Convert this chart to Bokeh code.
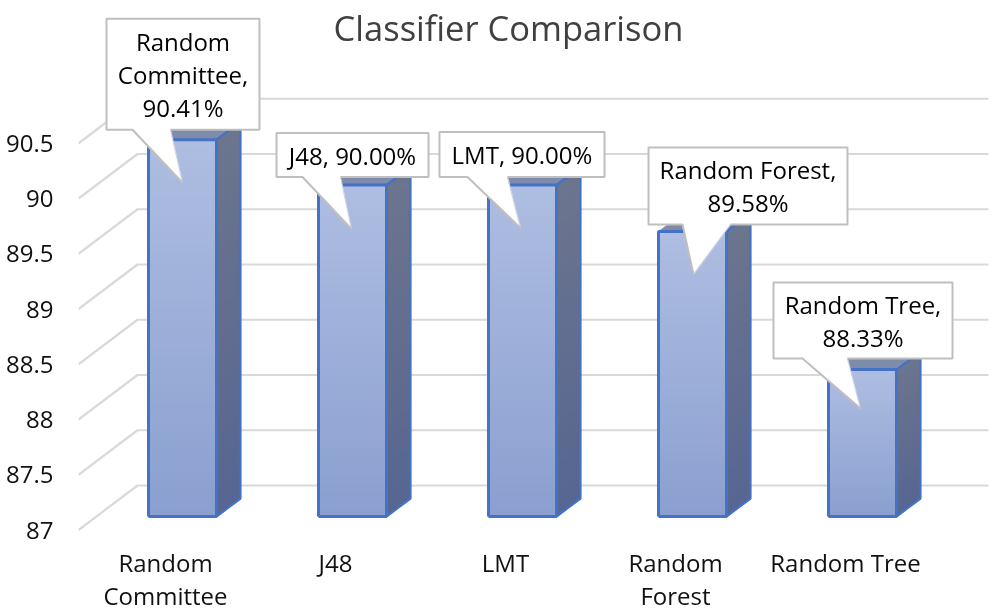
from bokeh.plotting import figure
from bokeh.models import Range1d, LinearAxis, FixedTicker, NumeralTickFormatter
from bokeh.core.properties import value
from bokeh.embed import file_html
from bokeh.resources import INLINE

categories = ["Random Committee", "J48", "LMT", "Random Forest", "Random Tree"]
axis_labels = ["Random\nCommittee", "J48", "LMT", "Random\nForest", "Random Tree"]
accuracy = [90.41, 90.00, 90.00, 89.58, 88.33]
y_ticks = [87, 87.5, 88, 88.5, 89, 89.5, 90, 90.5]
title_text = "Classifier Comparison"
callout_breaks = ["Random\nCommittee,\n", "J48, ", "LMT, ", "Random Forest,\n", "Random Tree,\n"]

FONT = "Open Sans"
W, H = 1000, 615
LEFT, BOTTOM = 78, 532          # frame edges, px
X_UNIT, Y_UNIT = 170.0, 110.5   # px per category / per accuracy point
X0, Y0 = 182.0, 516.0           # px of first bar centre / of value 87
BASE = 87.0

def dx(px): return px / X_UNIT
def dy(px): return px / Y_UNIT

x_start = dx(LEFT - X0)
x_end = dx(W - X0)
y_start = BASE - dy(BOTTOM - Y0)
y_end = BASE + dy(Y0)

p = figure(width=W, height=H, output_backend="svg", toolbar_location=None,
           x_range=Range1d(x_start, x_end), y_range=Range1d(y_start, y_end),
           x_axis_location=None, y_axis_location=None,
           min_border_left=LEFT, min_border_right=0, min_border_top=0,
           min_border_bottom=H - BOTTOM, outline_line_color=None,
           background_fill_color="white", border_fill_color="white")
p.xgrid.visible = False
p.ygrid.visible = False
p.styles = {"position": "fixed", "left": "0px", "top": "0px"}

# Axes on shifted ranges: the labels sit on the front edge of the 3-D floor
p.extra_y_ranges["front"] = Range1d(y_start + dy(13.5), y_end + dy(13.5))
ya = LinearAxis(y_range_name="front", ticker=FixedTicker(ticks=y_ticks),
                formatter=NumeralTickFormatter(format="0.[0]"),
                axis_line_color=None, major_tick_line_color=None, minor_tick_line_color=None,
                major_label_standoff=19, major_label_text_font=FONT,
                major_label_text_font_size="24px", major_label_text_color="#111111")
p.add_layout(ya, "left")

p.extra_x_ranges["front"] = Range1d(x_start + dx(17), x_end + dx(17))
xa = LinearAxis(x_range_name="front", ticker=FixedTicker(ticks=list(range(len(categories)))),
                major_label_overrides={i: s for i, s in enumerate(axis_labels)},
                axis_line_color=None, major_tick_line_color=None, minor_tick_line_color=None,
                major_label_standoff=7, major_label_text_font=FONT,
                major_label_text_font_size="24px", major_label_text_color="#111111",
                major_label_text_line_height=1.0)
p.add_layout(xa, "below")

# Gridlines: a diagonal on the side wall and a horizontal on the back wall
WALL_LEFT, WALL_BACK, WALL_RIGHT, WALL_FRONT = dx(137 - X0), dy(31), dx(988 - X0), dy(-13.5)
gx, gy = [], []
for t in y_ticks:
    gx.append([dx(LEFT - X0), WALL_LEFT, WALL_RIGHT])
    gy.append([t + WALL_FRONT, t + WALL_BACK, t + WALL_BACK])
p.multi_line(gx, gy, line_color="#d9d9d9", line_width=2.2)

# Bars
HALF = dx(34)
DEPTH_X, DEPTH_Y = dx(24), dy(18)
STEPS = 40
BLUE = "#4472c4"
def mix(a, b, f):
    return "#%02x%02x%02x" % tuple(round(a[k] + (b[k] - a[k]) * f) for k in range(3))

for i, v in enumerate(accuracy):
    l, r = i - HALF, i + HALF
    # each slice runs from its own top down to the base, painted top to bottom: no seams
    tops = [v - (v - BASE) * s / STEPS for s in range(STEPS)]
    fc = [mix((174, 189, 225), (138, 159, 208), s / STEPS) for s in range(STEPS)]
    sc = [mix((108, 117, 142), (86, 102, 146), s / STEPS) for s in range(STEPS)]
    p.patches([[r, r + DEPTH_X, r + DEPTH_X, r] for _ in tops],
              [[BASE, BASE + DEPTH_Y, t + DEPTH_Y, t] for t in tops],
              fill_color=sc, line_color=None)
    p.patch([l, r, r + DEPTH_X, l + DEPTH_X], [v, v, v + DEPTH_Y, v + DEPTH_Y],
            fill_color="#7f8bab", line_color="#7f8bab", line_width=0.5)
    p.quad(left=[l] * STEPS, right=[r] * STEPS, bottom=[BASE] * STEPS, top=tops,
           fill_color=fc, line_color=None)
    p.line([r, r + DEPTH_X, r + DEPTH_X, r], [BASE, BASE + DEPTH_Y, v + DEPTH_Y, v],
           line_color=BLUE, line_width=2.2)
    p.line([l, r, r, l, l], [BASE, BASE, v, v, BASE], line_color=BLUE, line_width=3)

# Callouts: box and tail placed relative to the bar centre / bar top, in px
# (box left, right, top above bar top, bottom, tail left, tail right, tip x, tip below bar top)
callouts = [
    (-76, 77, 121, 10, -50, -12, 0, 43),
    (-76, 76, 52, 8, -50, -12, -1, 44),
    (-83, 82, 53, 8, -55, -15, -2, 43),
    (-44, 155, 84, 7, -10, 38, 1, 43),
    (-89, 90, 87, 11, -60, -15, -2, 39),
]
for i, (v, brk, c) in enumerate(zip(accuracy, callout_breaks, callouts)):
    bl, br, bt, bb, tl, tr, tx, tip = c
    xs = [i + dx(a) for a in (bl, tl, tx, tr, br, br, bl)]
    ys = [v + dy(a) for a in (bb, bb, -tip, bb, bb, bt, bt)]
    p.patch(xs, ys, fill_color="white", line_color=None)
    # soft right edge of the tail, then the grey outline that leaves the tail's base open
    p.line([xs[2], xs[3]], [ys[2], ys[3]], line_color="#cfd4e0", line_width=1.2)
    p.line(xs[3:] + [xs[0], xs[1], xs[2]], ys[3:] + [ys[0], ys[1], ys[2]],
           line_color="#bfbfbf", line_width=2)
    p.text([i + dx((bl + br) / 2)], [v + dy((bt + bb) / 2)], text=[f"{brk}{v:.2f}%"],
           text_font=value(FONT), text_font_size="24px", text_color="#000000",
           text_align="center", text_baseline="middle", text_line_height=1.0)

p.text([dx(508 - X0)], [BASE + dy(Y0 - 27)], text=[title_text], text_font=value(FONT),
       text_font_size="34.5px", text_color="#404040", text_align="center", text_baseline="middle")

open("out.html", "w").write(file_html(p, INLINE))
